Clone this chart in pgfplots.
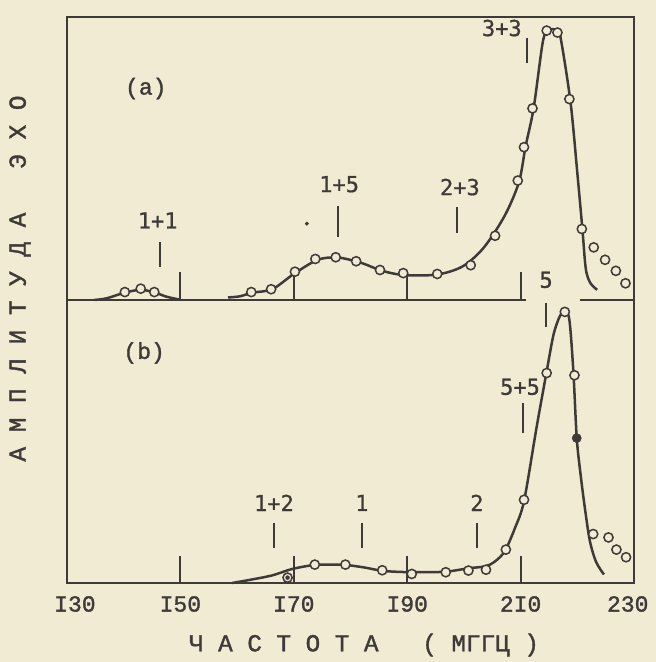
\documentclass[border=0pt]{standalone}
\usepackage{pgfplots}
\pgfplotsset{compat=1.18}
\usepackage{fontspec}
\newfontfamily\tw{Liberation Mono}[BoldFont={Liberation Mono}, BoldFeatures={FakeBold=1.5}]
\newfontfamily\tws{DejaVu Sans Mono}[BoldFont={DejaVu Sans Mono}, BoldFeatures={FakeBold=0.8}]
\definecolor{paper}{RGB}{241,235,212}
\definecolor{ink}{RGB}{62,58,55}
\newcommand{\lblfont}{\tws\bfseries\fontsize{22}{22}\selectfont}
\newcommand{\twfont}{\tw\bfseries\fontsize{23}{23}\selectfont}
\begin{document}
\begin{tikzpicture}[x=1pt,y=1pt]
\fill[paper] (0,0) rectangle (656,662);
\useasboundingbox (0,0) rectangle (656,662);
\node[rotate=90, font=\tw\bfseries\fontsize{24.4}{24}\selectfont, text=ink] at (20,383.5) {А~М~П~Л~И~Т~У~Д~А~~~Э~Х~О};
\node[font=\tw\bfseries\fontsize{24.3}{24}\selectfont, text=ink] at (364,17) {Ч~А~С~Т~О~Т~А~~~(~МГГЦ~)};

% ---------------- panel (a) ----------------
\begin{axis}[at={(67pt,362pt)}, anchor=south west, scale only axis,
  width=567pt, height=283pt,
  xmin=130, xmax=230, ymin=0, ymax=100,
  axis line style={ink, line width=2pt},
  xtick={150,170,190,210}, xticklabels={}, xtick pos=left, ytick=\empty,
  major tick length=28pt, tick style={ink, line width=2pt},
  clip=false]
\addplot[ink, line width=2.5pt, smooth] coordinates {
 (134.8,0) (137.0,0.6) (140.2,2.6) (143.0,3.6) (145.4,2.7) (147.5,1.2) (149.7,0.2)};
\addplot[ink, line width=2.5pt, smooth] coordinates {
 (158.4,0.9) (160.5,1.3) (162.7,2.6) (166.2,3.8) (170.0,9.2) (174.2,14.2) (177.8,15.0)
 (181.9,13.1) (185.6,10.3) (189.5,8.8) (195.3,9.0) (199.8,11.9) (203.5,18.5) (207.2,29.8)
 (209.7,41.6) (210.9,54.5) (212.3,67.8) (213.9,91.0) (214.8,95.2) (216.2,95.5) (217.0,93.2)
 (218.8,70) (220.0,45) (220.9,25) (221.5,11) (222.3,6) (223.5,3.6)};
\addplot[only marks, mark=*, mark size=4.6pt, mark options={draw=ink, fill=paper, line width=1.5pt}] coordinates {
 (140.2,2.8) (143.0,4.0) (145.4,2.8) (162.5,2.8) (166.0,3.8) (170.2,10.0) (173.8,14.5)
 (177.4,15.1) (181.0,13.7) (185.2,10.6) (189.3,9.5) (195.3,9.2) (201.2,12.3) (205.5,22.7)
 (209.5,42.2) (210.6,54.0) (212.1,67.7) (214.6,95.2) (216.5,94.5) (218.6,71.0) (220.8,25.1)
 (222.9,18.6) (224.9,14.2) (226.8,10.3) (228.5,5.9)};
\addplot[only marks, mark=*, mark size=1.8pt, ink] coordinates {(172.3,27)};
% resonance bars
\addplot[ink, line width=2.6pt, forget plot] coordinates {(146.4,11.7) (146.4,20.6)};
\addplot[ink, line width=2.6pt, forget plot] coordinates {(177.8,22.4) (177.8,33.1)};
\addplot[ink, line width=2.6pt, forget plot] coordinates {(198.8,23.8) (198.8,32.7)};
\addplot[ink, line width=2.6pt, forget plot] coordinates {(211.1,83.6) (211.1,92.5)};
\node[font=\twfont, text=ink] at (axis cs:143.9,74.7) {(a)};
\node[font=\lblfont, text=ink] at (axis cs:146.0,28.1) {1+1};
\node[font=\lblfont, text=ink] at (axis cs:178.0,40.9) {1+5};
\node[font=\lblfont, text=ink] at (axis cs:199.3,39.9) {2+3};
\node[font=\lblfont, text=ink] at (axis cs:206.7,96.1) {3+3};
\node[font=\lblfont, text=ink] at (axis cs:214.5,7.1) {5};
\end{axis}

% ---------------- panel (b) ----------------
\begin{axis}[at={(67pt,79pt)}, anchor=south west, scale only axis,
  width=567pt, height=283pt,
  xmin=130, xmax=230, ymin=0, ymax=100,
  axis line style={ink, line width=2pt},
  xtick={150,170,190,210}, xticklabels={I50,I70,I90,2I0}, xtick pos=left, ytick=\empty,
  extra x ticks={131.4,228.9}, extra x tick labels={I30,230},
  extra x tick style={major tick length=0pt},
  major tick length=27pt, tick style={ink, line width=2pt},
  xticklabel style={font=\twfont, text=ink, anchor=center, yshift=-21pt},
  clip=false]
% gap in the separator line
\addplot[paper, line width=6pt, forget plot] coordinates {(210.9,100) (220.4,100)};
\addplot[ink, line width=2.5pt, smooth] coordinates {
 (159.1,0) (162.5,1.2) (166.2,2.7) (169.8,5.0) (173.7,6.4) (176.5,6.5) (179.1,6.4) (182.4,5.5)
 (185.6,4.3) (189.0,3.9) (192.0,3.8) (196.8,4.0) (200.8,5.2) (203.8,5.9) (205.4,7.5)
 (207.2,11.2) (209.0,19.4) (210.6,28.9) (212.8,54.8) (214.6,74.8) (215.8,87.7) (216.9,94.2)
 (217.8,96.0) (218.6,93.0) (219.3,75) (219.9,51.2) (220.6,38) (221.3,27) (222.2,15)
 (223.3,7.5) (224.7,3.0)};
\addplot[only marks, mark=*, mark size=4.6pt, mark options={draw=ink, fill=paper, line width=1.5pt}] coordinates {
 (168.9,1.9) (173.7,6.5) (179.1,6.5) (185.6,4.5) (190.8,3.2) (196.8,3.8) (200.8,4.4)
 (203.9,4.7) (207.4,11.8) (210.6,29.4) (214.6,74.2) (217.8,95.8) (219.5,73.4) (222.8,17.3)
 (225.5,16.1) (226.9,11.8) (228.6,9.1)};
\addplot[only marks, mark=*, mark size=2pt, ink] coordinates {(168.9,1.9)};
\addplot[only marks, mark=*, mark size=4.6pt, mark options={draw=ink, fill=ink}] coordinates {(219.9,51.2)};
% resonance bars
\addplot[ink, line width=2.6pt, forget plot] coordinates {(166.5,12.4) (166.5,21.2)};
\addplot[ink, line width=2.6pt, forget plot] coordinates {(182.0,12.4) (182.0,21.2)};
\addplot[ink, line width=2.6pt, forget plot] coordinates {(202.3,12.4) (202.3,21.2)};
\addplot[ink, line width=2.6pt, forget plot] coordinates {(210.4,53.0) (210.4,63.6)};
\addplot[ink, line width=2.6pt, forget plot] coordinates {(214.5,90.5) (214.5,98.9)};
\node[font=\twfont, text=ink] at (axis cs:143.6,81.3) {(b)};
\node[font=\lblfont, text=ink] at (axis cs:166.5,28.3) {1+2};
\node[font=\lblfont, text=ink] at (axis cs:182.0,28.3) {1};
\node[font=\lblfont, text=ink] at (axis cs:202.3,28.3) {2};
\node[font=\lblfont, text=ink] at (axis cs:209.9,69.3) {5+5};
\end{axis}
\end{tikzpicture}
\end{document}
